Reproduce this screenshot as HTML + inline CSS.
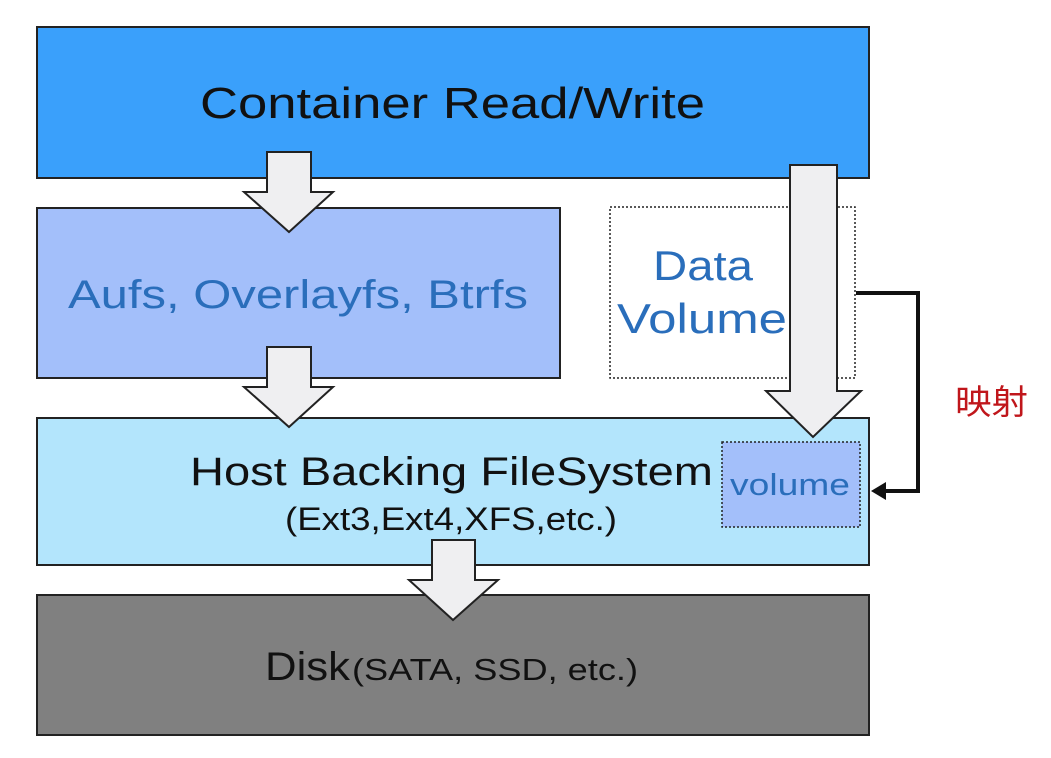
<!DOCTYPE html>
<html><head><meta charset="utf-8"><style>html,body{margin:0;padding:0;background:#fff}svg{display:block}text{font-family:"Liberation Sans","Noto Sans CJK SC",sans-serif}</style></head>
<body>
<svg width="1051" height="758" viewBox="0 0 1051 758" xmlns="http://www.w3.org/2000/svg">
<rect x="37" y="27" width="832" height="151" fill="#3aa0fb" stroke="#222" stroke-width="2"/>
<text x="200" y="118" font-size="44" fill="#111" textLength="505" lengthAdjust="spacingAndGlyphs">Container Read/Write</text>
<rect x="37" y="208" width="523" height="170" fill="#a3bffa" stroke="#222" stroke-width="2"/>
<text x="68" y="308" font-size="40" fill="#2a6ebb" textLength="460" lengthAdjust="spacingAndGlyphs">Aufs, Overlayfs, Btrfs</text>
<rect x="610" y="207" width="245" height="171" fill="#fff" stroke="#222" stroke-width="1.5" stroke-dasharray="2,2"/>
<text x="653" y="280" font-size="42" fill="#2a6ebb" textLength="100" lengthAdjust="spacingAndGlyphs">Data</text>
<text x="617" y="333" font-size="42" fill="#2a6ebb" textLength="170" lengthAdjust="spacingAndGlyphs">Volume</text>
<rect x="37" y="418" width="832" height="147" fill="#b3e5fc" stroke="#222" stroke-width="2"/>
<text x="190" y="485" font-size="40" fill="#111" textLength="523" lengthAdjust="spacingAndGlyphs">Host Backing FileSystem</text>
<text x="285" y="530" font-size="32" fill="#111" textLength="332" lengthAdjust="spacingAndGlyphs">(Ext3,Ext4,XFS,etc.)</text>
<rect x="722" y="442" width="138" height="85" fill="#a3bffa" stroke="#222" stroke-width="1.5" stroke-dasharray="2,2"/>
<text x="730" y="495" font-size="31" fill="#2a6ebb" textLength="120" lengthAdjust="spacingAndGlyphs">volume</text>
<rect x="37" y="595" width="832" height="140" fill="#808080" stroke="#222" stroke-width="2"/>
<text x="265" y="680" font-size="40" fill="#111" textLength="85" lengthAdjust="spacingAndGlyphs">Disk</text>
<text x="352" y="680" font-size="31" fill="#111" textLength="286" lengthAdjust="spacingAndGlyphs">(SATA, SSD, etc.)</text>
<g fill="#efeff1" stroke="#222" stroke-width="2" stroke-linejoin="miter">
<polygon points="267,152 311,152 311,192 333,192 289,232 244,192 267,192"/>
<polygon points="267,347 311,347 311,387 333,387 289,427 244,387 267,387"/>
<polygon points="432,540 475,540 475,580 498,580 453,620 409,580 432,580"/>
<polygon points="790,165 837,165 837,391 861,391 813,437 766,391 790,391"/>
</g>
<polyline points="856,293 918,293 918,491 884,491" fill="none" stroke="#111" stroke-width="4"/>
<polygon points="871,491 886,482 886,500" fill="#111"/>
<text x="955" y="414" font-size="34" fill="#c0161b" textLength="73" lengthAdjust="spacingAndGlyphs">映射</text>
</svg>
</body></html>
